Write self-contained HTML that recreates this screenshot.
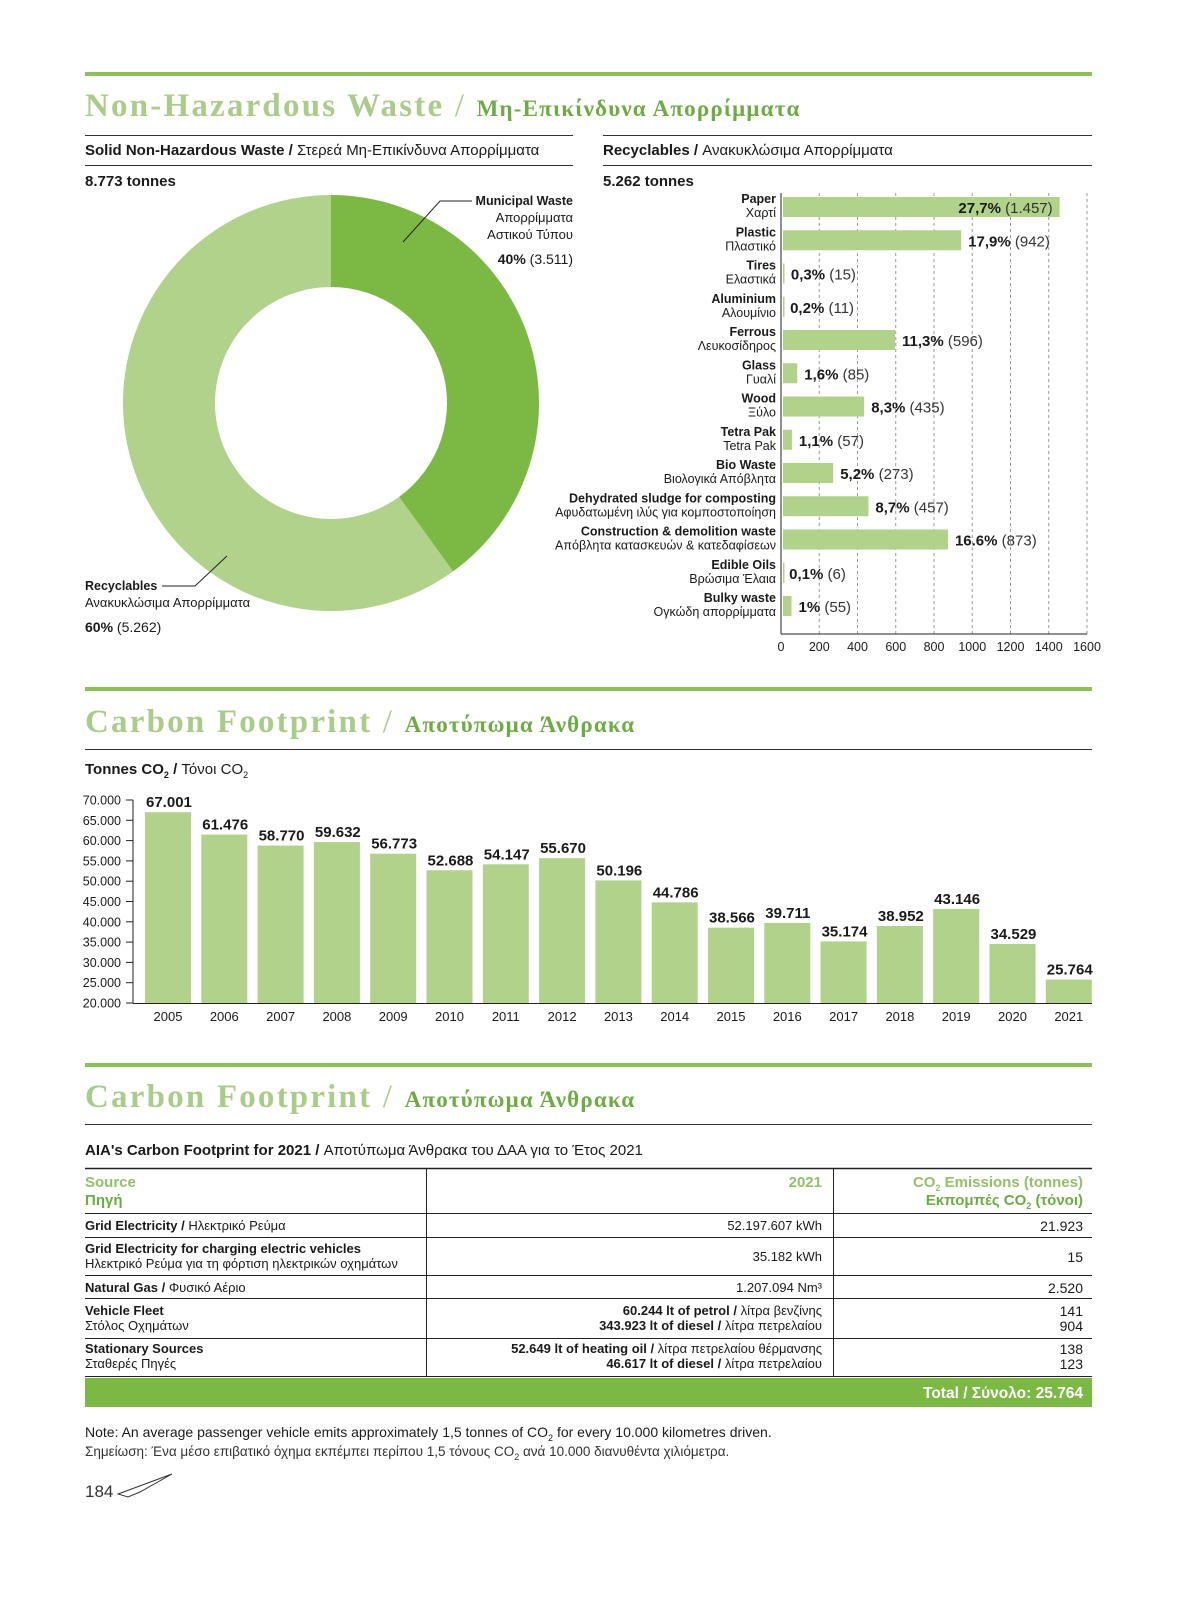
<!DOCTYPE html>
<html><head><meta charset="utf-8"><style>
body{margin:0;background:#fff}
svg{display:block}
text{font-family:"Liberation Sans Narrow","Liberation Sans","DejaVu Sans",sans-serif;fill:#1a1a1a}
.b{font-weight:bold}
.ser{font-family:"Liberation Serif","DejaVu Serif",serif;font-weight:bold;letter-spacing:2.2px}
.gr{letter-spacing:1.2px}
</style></head><body>
<svg id="s" width="1200" height="1599" viewBox="0 0 1200 1599">
<!-- Section 1 header -->
<rect x="85" y="72" width="1007" height="4" fill="#8dbf5a"/>
<text x="85" y="116" class="ser" font-size="33" style="fill:#a9cc8a">Non-Hazardous Waste <tspan font-weight="normal">/</tspan> <tspan class="gr" font-size="23" style="fill:#6fab45">Μη-Επικίνδυνα Απορρίμματα</tspan></text>
<line x1="85" y1="135.5" x2="573" y2="135.5" stroke="#333"/>
<line x1="603" y1="135.5" x2="1092" y2="135.5" stroke="#333"/>
<text x="85" y="155" font-size="15"><tspan class="b">Solid Non-Hazardous Waste /</tspan> Στερεά Μη-Επικίνδυνα Απορρίμματα</text>
<text x="603" y="155" font-size="15"><tspan class="b">Recyclables /</tspan> Ανακυκλώσιμα Απορρίμματα</text>
<line x1="85" y1="165.5" x2="573" y2="165.5" stroke="#333"/>
<line x1="603" y1="165.5" x2="1092" y2="165.5" stroke="#333"/>
<text x="85" y="186" font-size="15" class="b">8.773 tonnes</text>
<text x="603" y="186" font-size="15" class="b">5.262 tonnes</text>
<g id="donut"></g>
<polyline points="403,242 440,201 472,201" fill="none" stroke="#222"/>
<text x="573" y="205" font-size="12.5" text-anchor="end" class="b">Municipal Waste</text>
<text x="573" y="222" font-size="13" text-anchor="end">Απορρίμματα</text>
<text x="573" y="239" font-size="13" text-anchor="end">Αστικού Τύπου</text>
<text x="573" y="264" font-size="14" text-anchor="end"><tspan class="b">40%</tspan> (3.511)</text>
<polyline points="162,586 195,586 227,556" fill="none" stroke="#222"/>
<text x="85" y="590" font-size="12.5" class="b">Recyclables</text>
<text x="85" y="607" font-size="13">Ανακυκλώσιμα Απορρίμματα</text>
<text x="85" y="632" font-size="14"><tspan class="b">60%</tspan> (5.262)</text>
<g id="hbar"></g>

<!-- Section 2 -->
<rect x="85" y="687" width="1007" height="4" fill="#8dbf5a"/>
<text x="85" y="732" class="ser" font-size="33" style="fill:#a9cc8a">Carbon Footprint <tspan font-weight="normal">/</tspan> <tspan class="gr" font-size="23" style="fill:#6fab45">Αποτύπωμα Άνθρακα</tspan></text>
<line x1="85" y1="749.5" x2="1092" y2="749.5" stroke="#333"/>
<text x="85" y="774" font-size="15"><tspan class="b">Tonnes CO</tspan><tspan class="b" font-size="9" dy="4">2</tspan><tspan class="b" dy="-4"> /</tspan> Τόνοι CO<tspan font-size="9" dy="4">2</tspan></text>
<g id="vbar"></g>

<!-- Section 3 -->
<rect x="85" y="1063" width="1007" height="4" fill="#8dbf5a"/>
<text x="85" y="1107" class="ser" font-size="33" style="fill:#a9cc8a">Carbon Footprint <tspan font-weight="normal">/</tspan> <tspan class="gr" font-size="23" style="fill:#6fab45">Αποτύπωμα Άνθρακα</tspan></text>
<line x1="85" y1="1124.5" x2="1092" y2="1124.5" stroke="#333"/>
<text x="85" y="1155" font-size="15"><tspan class="b">AIA's Carbon Footprint for 2021 /</tspan> Αποτύπωμα Άνθρακα του ΔΑΑ για το Έτος 2021</text>
<g font-size="13">
<line x1="85" y1="1168.5" x2="1092" y2="1168.5" stroke="#222" stroke-width="1.5"/>
<line x1="426.5" y1="1168" x2="426.5" y2="1377" stroke="#222"/>
<line x1="833.5" y1="1168" x2="833.5" y2="1377" stroke="#222"/>
<text x="85" y="1187" font-size="15" class="b" style="fill:#93c06a">Source</text>
<text x="85" y="1205" font-size="15" class="b" style="fill:#6fab45">Πηγή</text>
<text x="822" y="1187" font-size="15" class="b" text-anchor="end" style="fill:#93c06a">2021</text>
<text x="1083" y="1187" font-size="15" class="b" text-anchor="end" style="fill:#93c06a">CO<tspan font-size="9" dy="4">2</tspan><tspan dy="-4"> Emissions (tonnes)</tspan></text>
<text x="1083" y="1205" font-size="15" class="b" text-anchor="end" style="fill:#6fab45">Εκπομπές CO<tspan font-size="9" dy="4">2</tspan><tspan dy="-4"> (τόνοι)</tspan></text>
<line x1="85" y1="1213.5" x2="1092" y2="1213.5" stroke="#222"/>
<text x="85" y="1230"><tspan class="b">Grid Electricity /</tspan> Ηλεκτρικό Ρεύμα</text>
<text x="822" y="1230" text-anchor="end">52.197.607 kWh</text>
<text x="1083" y="1231" text-anchor="end" font-size="14">21.923</text>
<line x1="85" y1="1237.5" x2="1092" y2="1237.5" stroke="#222"/>
<text x="85" y="1253" class="b">Grid Electricity for charging electric vehicles</text>
<text x="85" y="1268">Ηλεκτρικό Ρεύμα για τη φόρτιση ηλεκτρικών οχημάτων</text>
<text x="822" y="1261" text-anchor="end">35.182 kWh</text>
<text x="1083" y="1262" text-anchor="end" font-size="14">15</text>
<line x1="85" y1="1275.5" x2="1092" y2="1275.5" stroke="#222"/>
<text x="85" y="1292"><tspan class="b">Natural Gas /</tspan> Φυσικό Αέριο</text>
<text x="822" y="1292" text-anchor="end">1.207.094 Nm³</text>
<text x="1083" y="1293" text-anchor="end" font-size="14">2.520</text>
<line x1="85" y1="1298.5" x2="1092" y2="1298.5" stroke="#222"/>
<text x="85" y="1315" class="b">Vehicle Fleet</text>
<text x="85" y="1330">Στόλος Οχημάτων</text>
<text x="822" y="1315" text-anchor="end"><tspan class="b">60.244 lt of petrol /</tspan> λίτρα βενζίνης</text>
<text x="822" y="1330" text-anchor="end"><tspan class="b">343.923 lt of diesel /</tspan> λίτρα πετρελαίου</text>
<text x="1083" y="1316" text-anchor="end" font-size="14">141</text>
<text x="1083" y="1331" text-anchor="end" font-size="14">904</text>
<line x1="85" y1="1338.5" x2="1092" y2="1338.5" stroke="#222"/>
<text x="85" y="1353" class="b">Stationary Sources</text>
<text x="85" y="1368">Σταθερές Πηγές</text>
<text x="822" y="1353" text-anchor="end"><tspan class="b">52.649 lt of heating oil /</tspan> λίτρα πετρελαίου θέρμανσης</text>
<text x="822" y="1368" text-anchor="end"><tspan class="b">46.617 lt of diesel /</tspan> λίτρα πετρελαίου</text>
<text x="1083" y="1354" text-anchor="end" font-size="14">138</text>
<text x="1083" y="1369" text-anchor="end" font-size="14">123</text>
<line x1="85" y1="1376.5" x2="1092" y2="1376.5" stroke="#222"/>
<rect x="85" y="1378" width="1007" height="29" fill="#7cb944"/>
<text x="1083" y="1398" text-anchor="end" font-size="15.5" class="b" style="fill:#fff">Total / Σύνολο: 25.764</text>
</g>
<text x="85" y="1437" font-size="14">Note: An average passenger vehicle emits approximately 1,5 tonnes of CO<tspan font-size="9" dy="4">2</tspan><tspan dy="-4"> for every 10.000 kilometres driven.</tspan></text>
<text x="85" y="1456" font-size="13.5" style="fill:#333">Σημείωση: Ένα μέσο επιβατικό όχημα εκπέμπει περίπου 1,5 τόνους CO<tspan font-size="9" dy="4">2</tspan><tspan dy="-4"> ανά 10.000 διανυθέντα χιλιόμετρα.</tspan></text>
<text x="85" y="1497" font-size="17" style="fill:#333">184</text>
<path d="M118,1494 L172,1474 L140,1492 L128,1497 Z" fill="none" stroke="#333"/>
</svg>
<script>
const NS="http://www.w3.org/2000/svg";
// Donut data
const donutLabels=["Municipal Waste","Recyclables"];
const donutValues=[3511,5262];
// Recyclables data
const recCats=["Paper","Plastic","Tires","Aluminium","Ferrous","Glass","Wood","Tetra Pak","Bio Waste","Dehydrated sludge for composting","Construction & demolition waste","Edible Oils","Bulky waste"];
const recCatsGr=["Χαρτί","Πλαστικό","Ελαστικά","Αλουμίνιο","Λευκοσίδηρος","Γυαλί","Ξύλο","Tetra Pak","Βιολογικά Απόβλητα","Αφυδατωμένη ιλύς για κομποστοποίηση","Απόβλητα κατασκευών & κατεδαφίσεων","Βρώσιμα Έλαια","Ογκώδη απορρίμματα"];
const recValues=[1457,942,15,11,596,85,435,57,273,457,873,6,55];
const recPct=["27,7%","17,9%","0,3%","0,2%","11,3%","1,6%","8,3%","1,1%","5,2%","8,7%","16.6%","0,1%","1%"];
const recValueLabels=["1.457","942","15","11","596","85","435","57","273","457","873","6","55"];
const recTicks=[0,200,400,600,800,1000,1200,1400,1600];
// CO2 data
const years=["2005","2006","2007","2008","2009","2010","2011","2012","2013","2014","2015","2016","2017","2018","2019","2020","2021"];
const co2=[67001,61476,58770,59632,56773,52688,54147,55670,50196,44786,38566,39711,35174,38952,43146,34529,25764];
const co2Labels=["67.001","61.476","58.770","59.632","56.773","52.688","54.147","55.670","50.196","44.786","38.566","39.711","35.174","38.952","43.146","34.529","25.764"];
const co2Ticks=[20000,25000,30000,35000,40000,45000,50000,55000,60000,65000,70000];
const co2TickLabels=["20.000","25.000","30.000","35.000","40.000","45.000","50.000","55.000","60.000","65.000","70.000"];

function mk(tag,attrs,parent,txt){const e=document.createElementNS(NS,tag);for(const k in attrs)e.setAttribute(k,attrs[k]);if(txt!==undefined)e.textContent=txt;parent.appendChild(e);return e;}

// Donut
(function(){
const g=document.getElementById('donut');const cx=331,cy=403,R=208,r=116;
const total=donutValues.reduce((a,b)=>a+b,0);const cols=["#7cb944","#b0d28a"];
let a0=0;
donutValues.forEach((v,i)=>{
 const a1=a0+v/total*2*Math.PI;
 const p=(a,rr)=>[cx+rr*Math.sin(a),cy-rr*Math.cos(a)];
 const large=(a1-a0)>Math.PI?1:0;
 const [x0,y0]=p(a0,R),[x1,y1]=p(a1,R),[x2,y2]=p(a1,r),[x3,y3]=p(a0,r);
 const e=mk('path',{d:`M${x0},${y0} A${R},${R} 0 ${large} 1 ${x1},${y1} L${x2},${y2} A${r},${r} 0 ${large} 0 ${x3},${y3} Z`,fill:cols[i]},g);
 
 
 a0=a1;
});
})();

// Horizontal bars
(function(){
const g=document.getElementById('hbar');
const x0=781,x1=1087,vmax=1600,y0=207,step=33.25,bh=20;
const X=v=>x0+(x1-x0)*v/vmax;
recTicks.forEach(t=>{
 if(t>0){const l=mk('line',{x1:X(t),x2:X(t),y1:193,y2:634,stroke:'#999','stroke-dasharray':'3,3'},g);
 
 }
 const tx=mk('text',{x:X(t),y:651,'font-size':12.5,'text-anchor':'middle',fill:'#333'},g,String(t));
 
 
});
mk('line',{x1:x0,x2:x0,y1:193,y2:634,stroke:'#222'},g);
mk('line',{x1:x0,x2:x1,y1:634,y2:634,stroke:'#222'},g);
recValues.forEach((v,i)=>{
 const yc=y0+i*step;
 const b=mk('rect',{x:x0+2,y:yc-bh/2,width:Math.max(1.5,X(v)-x0-2),height:bh,fill:'#b0d28a'},g);
 
 
 const t1=mk('text',{x:x0-5,y:yc-4,'font-size':12.5,'text-anchor':'end','font-weight':'bold'},g,recCats[i]);
 
 
 const t2=mk('text',{x:x0-5,y:yc+10,'font-size':12.5,'text-anchor':'end',fill:'#333'},g,recCatsGr[i]);
 
 
 const inside=v>1300;
 const lt=mk('text',{x:inside?X(v)-7:X(v)+7,y:yc+6,'font-size':15,'text-anchor':inside?'end':'start'},g);
 
 
 mk('tspan',{'font-weight':'bold'},lt,recPct[i]);
 mk('tspan',{fill:'#333'},lt,' ('+recValueLabels[i]+')');
});
})();

// Column chart
(function(){
const g=document.getElementById('vbar');
const yb=1003,yt=800,vmin=20000,vmax=70000,xc0=168,step=56.3,bw=46;
const Y=v=>yb-(yb-yt)*(v-vmin)/(vmax-vmin);
mk('line',{x1:133,x2:133,y1:yt,y2:yb,stroke:'#222'},g);
mk('line',{x1:133,x2:1092,y1:yb+0.5,y2:yb+0.5,stroke:'#222'},g);
co2Ticks.forEach((t,i)=>{
 mk('line',{x1:126,x2:133,y1:Y(t),y2:Y(t),stroke:'#222'},g);
 const tx=mk('text',{x:121,y:Y(t)+4.5,'font-size':12.5,'text-anchor':'end',fill:'#333'},g,co2TickLabels[i]);
 
 
});
co2.forEach((v,i)=>{
 const xc=xc0+i*step;
 const b=mk('rect',{x:xc-bw/2,y:Y(v),width:bw,height:yb-Y(v),fill:'#b0d28a'},g);
 
 
 const vl=mk('text',{x:xc-bw/2+1,y:Y(v)-5,'font-size':15,'font-weight':'bold'},g,co2Labels[i]);
 
 
 const yl=mk('text',{x:xc,y:1021,'font-size':13,'text-anchor':'middle',fill:'#333'},g,years[i]);
 
 
});
})();
</script>
</body></html>
